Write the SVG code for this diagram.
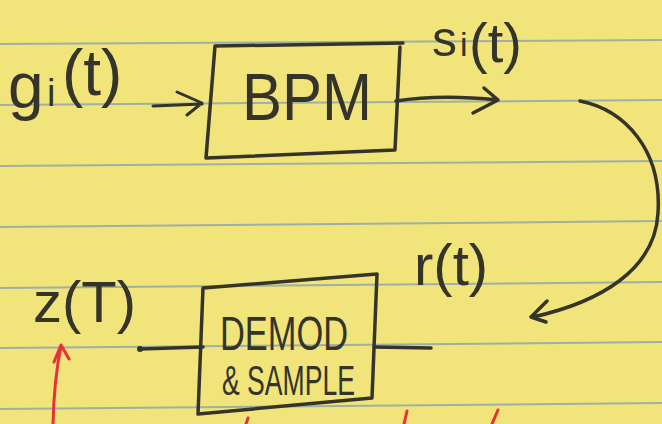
<svg xmlns="http://www.w3.org/2000/svg" width="662" height="424" viewBox="0 0 662 424">
<style>
.paper{fill:#F1E47A}
.rule{stroke:#9DB0A6;stroke-width:2;fill:none}
.ink{stroke:#34342B;stroke-width:3.5;fill:none;stroke-linecap:round;stroke-linejoin:round}
.thin{stroke:#34342B;stroke-width:3;fill:none;stroke-linecap:round;stroke-linejoin:round}
.red{stroke:#E8303A;stroke-width:3;fill:none;stroke-linecap:round;stroke-linejoin:round}
.txt{font-family:"Liberation Sans","DejaVu Sans",sans-serif;fill:#34342B}
</style>
<rect class="paper" x="0" y="0" width="662" height="424"/>
<g id="rules">
<line class="rule" x1="0" y1="44" x2="662" y2="40"/>
<line class="rule" x1="0" y1="105" x2="662" y2="100"/>
<line class="rule" x1="0" y1="166" x2="662" y2="161"/>
<line class="rule" x1="0" y1="227" x2="662" y2="221"/>
<line class="rule" x1="0" y1="288" x2="662" y2="282"/>
<line class="rule" x1="0" y1="348" x2="662" y2="342"/>
<line class="rule" x1="0" y1="409" x2="662" y2="403"/>
</g>
<g id="bpm">
<path class="ink" d="M215,46 L403,43 M400,47 L395,150 L206,158 L215,46"/>
<text class="txt" x="242" y="120" font-size="66" textLength="130" lengthAdjust="spacingAndGlyphs">BPM</text>
</g>
<g id="demod">
<path class="ink" d="M203,288 L377,274 L372,398 L198,414 Z"/>
<text class="txt" x="220" y="350" font-size="48" textLength="128" lengthAdjust="spacingAndGlyphs">DEMOD</text>
<text class="txt" x="222" y="395" font-size="42" textLength="133" lengthAdjust="spacingAndGlyphs">&amp; SAMPLE</text>
</g>
<g id="label-g">
<text class="txt" font-size="64"><tspan x="8" y="108">g</tspan><tspan font-size="38" x="47" y="106">i</tspan><tspan x="62" y="95">(t)</tspan></text>
</g>
<g id="label-s">
<text class="txt" font-size="56"><tspan font-size="50" x="432" y="56">s</tspan><tspan font-size="34" x="460" y="56">i</tspan><tspan x="469" y="62">(t)</tspan></text>
</g>
<g id="label-r">
<text class="txt" font-size="58" x="414" y="285">r(t)</text>
</g>
<g id="label-z">
<text class="txt" font-size="58" x="33" y="322">z(T)</text>
</g>
<g id="connectors">
<path class="thin" d="M153,106 L202,104 M177,92 L202,103 L187,115"/>
<path class="ink" d="M396,101 Q440,94 498,100 M484,88 L498,100 L473,113"/>
<path class="ink" d="M580,101 C625,110 662,150 658,213 C655,270 600,302 533,317 M547,301 L531,317 L546,322"/>
<circle cx="140" cy="349" r="3" fill="#34342B"/>
<path class="ink" d="M140,349 L203,347"/>
<path class="ink" d="M374,347 L431,348"/>
<path class="red" d="M53,424 Q54,380 61,346 M54,362 L61,345 L69,359"/>
<path class="red" d="M246,424 L248,418 M404,424 L407,411 M492,424 L498,410"/>
</g>
</svg>
